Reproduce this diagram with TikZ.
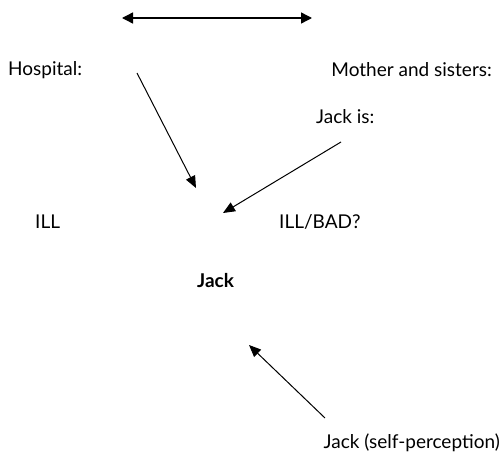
\documentclass[tikz,border=0pt]{standalone}
\usepackage{fontspec}
\setmainfont{Lato}
\usetikzlibrary{arrows.meta}
\begin{document}
\begin{tikzpicture}[x=1pt,y=-1pt,
  lbl/.style={inner sep=0pt,font=\fontsize{19}{22}\selectfont},
  link/.style={line width=1pt,-{Triangle[length=12pt,width=10pt]}}]
\useasboundingbox (0,0) rectangle (501,458);
% two-way relation on top
\coordinate (tl) at (122,18);
\coordinate (tr) at (312,18);
\draw[line width=1.4pt,{Triangle[length=11pt,width=11pt]}-{Triangle[length=11pt,width=11pt]}] (tl) -- (tr);
% labels
\node[lbl,anchor=west] (hosp) at (8,70) {Hospital:};
\node[lbl,anchor=east] (moth) at (492,70) {Mother and sisters:};
\node[lbl,anchor=west] (jis) at (316,117) {Jack is:};
\node[lbl,anchor=west] (ill) at (35,222) {ILL};
\node[lbl,anchor=west] (illbad) at (279,222) {ILL/BAD?};
\node[lbl,anchor=west,font=\fontsize{19}{22}\selectfont\bfseries] (jack) at (197,281) {Jack};
\node[lbl,anchor=east] (self) at (500,443) {Jack (self-perception)};
% connectors
\coordinate (h0) at (137,73);
\coordinate (h1) at (196,188);
\coordinate (m0) at (341,142);
\coordinate (m1) at (223,213);
\coordinate (s0) at (325,418);
\coordinate (s1) at (249,345);
\draw[link] (h0) -- (h1);
\draw[link] (m0) -- (m1);
\draw[link] (s0) -- (s1);
\end{tikzpicture}
\end{document}
